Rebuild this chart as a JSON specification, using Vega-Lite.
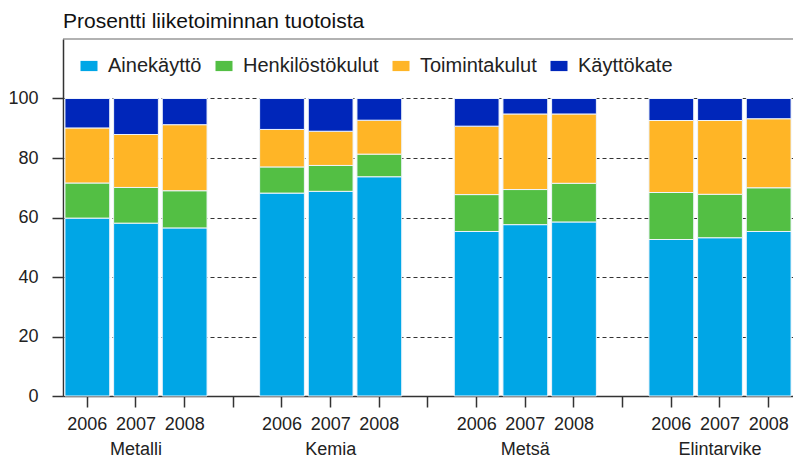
{
  "$schema": "https://vega.github.io/schema/vega-lite/v6.json",
  "width": 730,
  "height": 357,
  "autosize": {"type": "none"},
  "padding": {"left": 63, "top": 39, "right": 0, "bottom": 62},
  "background": "white",
  "config": {
    "view": {"stroke": null},
    "font": "Liberation Sans"
  },
  "title": {
    "text": "Prosentti liiketoiminnan tuotoista",
    "anchor": "start",
    "frame": "group",
    "fontSize": 21,
    "fontWeight": "normal",
    "color": "#111",
    "offset": 6
  },
  "layer": [
    {
      "data": {
        "values": [
          {"slot": "Metalli|2006", "category": "Ainekäyttö", "ord": 1, "value": 59.8},
          {"slot": "Metalli|2006", "category": "Henkilöstökulut", "ord": 2, "value": 11.8},
          {"slot": "Metalli|2006", "category": "Toimintakulut", "ord": 3, "value": 18.5},
          {"slot": "Metalli|2006", "category": "Käyttökate", "ord": 4, "value": 9.9},
          {"slot": "Metalli|2007", "category": "Ainekäyttö", "ord": 1, "value": 58.1},
          {"slot": "Metalli|2007", "category": "Henkilöstökulut", "ord": 2, "value": 12.0},
          {"slot": "Metalli|2007", "category": "Toimintakulut", "ord": 3, "value": 17.8},
          {"slot": "Metalli|2007", "category": "Käyttökate", "ord": 4, "value": 12.1},
          {"slot": "Metalli|2008", "category": "Ainekäyttö", "ord": 1, "value": 56.5},
          {"slot": "Metalli|2008", "category": "Henkilöstökulut", "ord": 2, "value": 12.5},
          {"slot": "Metalli|2008", "category": "Toimintakulut", "ord": 3, "value": 22.2},
          {"slot": "Metalli|2008", "category": "Käyttökate", "ord": 4, "value": 8.8},
          {"slot": "Kemia|2006", "category": "Ainekäyttö", "ord": 1, "value": 68.2},
          {"slot": "Kemia|2006", "category": "Henkilöstökulut", "ord": 2, "value": 8.8},
          {"slot": "Kemia|2006", "category": "Toimintakulut", "ord": 3, "value": 12.6},
          {"slot": "Kemia|2006", "category": "Käyttökate", "ord": 4, "value": 10.4},
          {"slot": "Kemia|2007", "category": "Ainekäyttö", "ord": 1, "value": 68.8},
          {"slot": "Kemia|2007", "category": "Henkilöstökulut", "ord": 2, "value": 8.7},
          {"slot": "Kemia|2007", "category": "Toimintakulut", "ord": 3, "value": 11.5},
          {"slot": "Kemia|2007", "category": "Käyttökate", "ord": 4, "value": 11.0},
          {"slot": "Kemia|2008", "category": "Ainekäyttö", "ord": 1, "value": 73.7},
          {"slot": "Kemia|2008", "category": "Henkilöstökulut", "ord": 2, "value": 7.6},
          {"slot": "Kemia|2008", "category": "Toimintakulut", "ord": 3, "value": 11.4},
          {"slot": "Kemia|2008", "category": "Käyttökate", "ord": 4, "value": 7.3},
          {"slot": "Metsä|2006", "category": "Ainekäyttö", "ord": 1, "value": 55.3},
          {"slot": "Metsä|2006", "category": "Henkilöstökulut", "ord": 2, "value": 12.4},
          {"slot": "Metsä|2006", "category": "Toimintakulut", "ord": 3, "value": 23.0},
          {"slot": "Metsä|2006", "category": "Käyttökate", "ord": 4, "value": 9.3},
          {"slot": "Metsä|2007", "category": "Ainekäyttö", "ord": 1, "value": 57.6},
          {"slot": "Metsä|2007", "category": "Henkilöstökulut", "ord": 2, "value": 11.8},
          {"slot": "Metsä|2007", "category": "Toimintakulut", "ord": 3, "value": 25.4},
          {"slot": "Metsä|2007", "category": "Käyttökate", "ord": 4, "value": 5.2},
          {"slot": "Metsä|2008", "category": "Ainekäyttö", "ord": 1, "value": 58.5},
          {"slot": "Metsä|2008", "category": "Henkilöstökulut", "ord": 2, "value": 13.0},
          {"slot": "Metsä|2008", "category": "Toimintakulut", "ord": 3, "value": 23.3},
          {"slot": "Metsä|2008", "category": "Käyttökate", "ord": 4, "value": 5.2},
          {"slot": "Elintarvike|2006", "category": "Ainekäyttö", "ord": 1, "value": 52.6},
          {"slot": "Elintarvike|2006", "category": "Henkilöstökulut", "ord": 2, "value": 15.8},
          {"slot": "Elintarvike|2006", "category": "Toimintakulut", "ord": 3, "value": 24.2},
          {"slot": "Elintarvike|2006", "category": "Käyttökate", "ord": 4, "value": 7.4},
          {"slot": "Elintarvike|2007", "category": "Ainekäyttö", "ord": 1, "value": 53.2},
          {"slot": "Elintarvike|2007", "category": "Henkilöstökulut", "ord": 2, "value": 14.6},
          {"slot": "Elintarvike|2007", "category": "Toimintakulut", "ord": 3, "value": 24.8},
          {"slot": "Elintarvike|2007", "category": "Käyttökate", "ord": 4, "value": 7.4},
          {"slot": "Elintarvike|2008", "category": "Ainekäyttö", "ord": 1, "value": 55.3},
          {"slot": "Elintarvike|2008", "category": "Henkilöstökulut", "ord": 2, "value": 14.7},
          {"slot": "Elintarvike|2008", "category": "Toimintakulut", "ord": 3, "value": 23.2},
          {"slot": "Elintarvike|2008", "category": "Käyttökate", "ord": 4, "value": 6.8}
        ]
      },
      "mark": {"type": "bar", "stroke": "#eef4fb", "strokeWidth": 1},
      "encoding": {
        "x": {
          "field": "slot",
          "type": "nominal",
          "sort": null,
          "scale": {
            "domain": ["Metalli|2006", "Metalli|2007", "Metalli|2008", "g1", "Kemia|2006", "Kemia|2007", "Kemia|2008", "g2", "Metsä|2006", "Metsä|2007", "Metsä|2008", "g3", "Elintarvike|2006", "Elintarvike|2007", "Elintarvike|2008"],
            "paddingInner": 0.08,
            "paddingOuter": 0.04
          },
          "axis": {
            "title": null,
            "labelAngle": 0,
            "labelOverlap": false,
            "labelExpr": "indexof(datum.value,'|')<0 ? '' : (split(datum.value,'|')[1]=='2007' ? [split(datum.value,'|')[1], split(datum.value,'|')[0]] : split(datum.value,'|')[1])",
            "labelFontSize": 18,
            "labelColor": "#222",
            "labelPadding": 8,
            "labelLineHeight": 25,
            "tickSize": 11,
            "tickColor": "#333",
            "tickWidth": 1.5,
            "domainColor": "#333",
            "domainWidth": 1.5,
            "grid": false
          }
        },
        "y": {
          "field": "value",
          "type": "quantitative",
          "stack": "zero",
          "scale": {"domain": [0, 120], "nice": false},
          "axis": {
            "title": null,
            "values": [0, 20, 40, 60, 80, 100],
            "labelFontSize": 18,
            "labelColor": "#222",
            "labelPadding": 14,
            "tickSize": 11,
            "tickColor": "#333",
            "tickWidth": 1.5,
            "domainColor": "#333",
            "domainWidth": 1.5,
            "grid": true,
            "gridColor": "#333",
            "gridDash": [4, 3],
            "gridWidth": 1.2
          }
        },
        "color": {
          "field": "category",
          "type": "nominal",
          "scale": {
            "domain": ["Ainekäyttö", "Henkilöstökulut", "Toimintakulut", "Käyttökate"],
            "range": ["#00A6E6", "#53BF44", "#FFB526", "#0026BA"]
          },
          "legend": {
            "title": null,
            "orient": "none",
            "legendX": 16,
            "legendY": 17,
            "direction": "horizontal",
            "columns": 4,
            "padding": 0,
            "columnPadding": 12,
            "labelFontSize": 20,
            "labelColor": "#222",
            "labelOffset": 9,
            "symbolType": "M-1,-0.6H1V0.6H-1Z",
            "symbolSize": 289,
            "symbolStrokeWidth": 0
          }
        },
        "order": {"field": "ord", "type": "quantitative"}
      }
    },
    {
      "data": {"values": [{"v": 120}]},
      "mark": {"type": "rule", "color": "#666", "strokeWidth": 1.2},
      "encoding": {
        "y": {"field": "v", "type": "quantitative"}
      }
    }
  ]
}
